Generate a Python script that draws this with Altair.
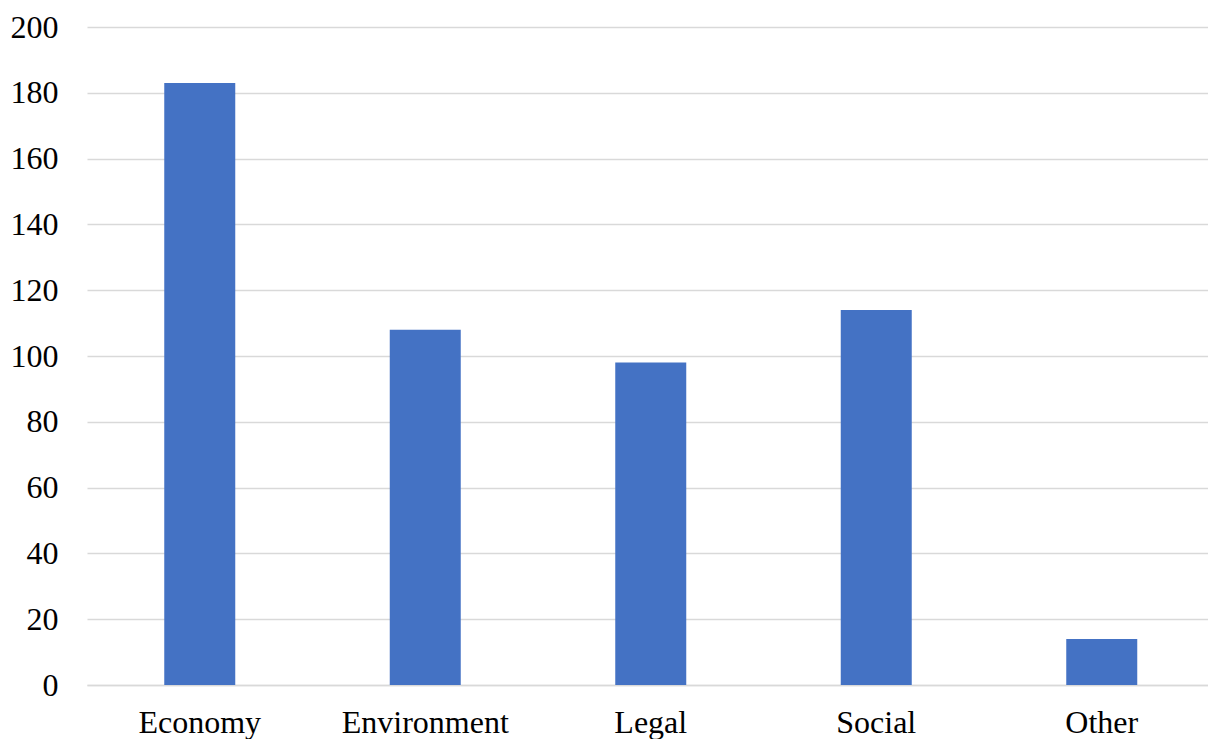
import altair as alt
import pandas as pd

categories = ["Economy", "Environment", "Legal", "Social", "Other"]
counts = [183, 108, 98, 114, 14]

df = pd.DataFrame({"category": categories, "count": counts})

chart = (
    alt.Chart(df)
    .mark_bar(size=71, color="#4472C4")
    .encode(
        x=alt.X(
            "category:N",
            sort=categories,
            title=None,
            scale=alt.Scale(paddingInner=0, paddingOuter=0, range=[0, 1127.5]),
            axis=alt.Axis(
                labelAngle=0,
                labelFont="Liberation Serif",
                labelFontSize=32,
                labelColor="#000000",
                labelPadding=22,
                labelBaseline="top",
                ticks=False,
                domainColor="#d9d9d9",
                domainWidth=1.5,
                grid=False,
            ),
        ),
        y=alt.Y(
            "count:Q",
            title=None,
            scale=alt.Scale(domain=[0, 200], nice=False),
            axis=alt.Axis(
                values=list(range(0, 201, 20)),
                labelFont="Liberation Serif",
                labelFontSize=32,
                labelColor="#000000",
                labelPadding=29,
                ticks=False,
                domain=False,
                gridColor="#d9d9d9",
                gridWidth=1.5,
            ),
        ),
    )
    .properties(
        width=1121,
        height=658,
        autosize=alt.AutoSizeParams(type="none"),
        padding={"left": 87, "top": 27, "right": 0, "bottom": 54},
    )
    .configure(background="white", view=alt.ViewConfig(stroke=None))
)

chart.save("out.html", embed_options={"renderer": "svg", "actions": False})
